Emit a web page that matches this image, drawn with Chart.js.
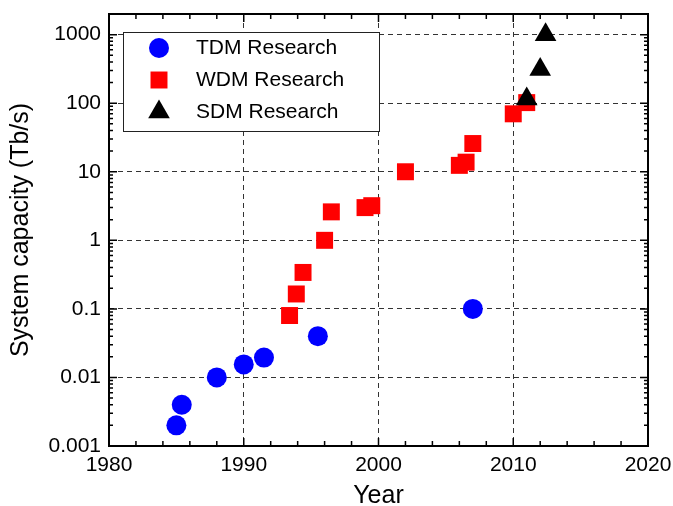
<!DOCTYPE html>
<html>
<head>
<meta charset="utf-8">
<title>System capacity vs year</title>
<script src="https://cdn.jsdelivr.net/npm/chart.js@4.4.0/dist/chart.umd.min.js"></script>
<style>
  html, body { margin: 0; padding: 0; background: #fff; }
  #wrap { width: 673px; height: 506px; }
</style>
</head>
<body>
<div id="wrap"><canvas id="capacityChart" width="673" height="506"></canvas></div>
<script>
// data
const tdmYears = [1985, 1985.4, 1988, 1990, 1991.5, 1995.5, 2007];
const tdmCapacity = [0.002, 0.004, 0.01, 0.0155, 0.0195, 0.04, 0.1];
const wdmYears = [1993.4, 1993.9, 1994.4, 1996, 1996.5, 1999, 1999.5, 2002, 2006, 2006.5, 2007, 2010, 2011];
const wdmCapacity = [0.08, 0.165, 0.34, 1.0, 2.6, 3.0, 3.2, 10, 12.4, 13.8, 25.8, 70, 102];
const sdmYears = [2011, 2012, 2012.4];
const sdmCapacity = [115, 310, 1000];

const xTicks = [1980, 1990, 2000, 2010, 2020];
const yTicks = [0.001, 0.01, 0.1, 1, 10, 100, 1000];
const yTickLabels = ["0.001", "0.01", "0.1", "1", "10", "100", "1000"];

const FONT = "'Liberation Sans', Arial, Helvetica, sans-serif";

function toPoints(xs, ys) {
  return xs.map((x, i) => ({ x: x, y: ys[i] }));
}

// plot frame + inward ticks (minor ones too)
const frameTicks = {
  id: "frameTicks",
  afterDraw(chart) {
    const ctx = chart.ctx;
    const a = chart.chartArea;
    const x = chart.scales.x;
    const y = chart.scales.y;
    ctx.save();
    ctx.strokeStyle = "#000";
    ctx.lineWidth = 1.5;
    ctx.beginPath();
    for (let yr = xTicks[0]; yr <= xTicks[xTicks.length - 1]; yr += 2) {
      const px = x.getPixelForValue(yr);
      const len = xTicks.includes(yr) ? 8 : 5;
      ctx.moveTo(px, a.bottom); ctx.lineTo(px, a.bottom - len);
      ctx.moveTo(px, a.top); ctx.lineTo(px, a.top + len);
    }
    yTicks.forEach(function (dec) {
      for (let m = 1; m < 10; m++) {
        const v = dec * m;
        if (v > y.max) break;
        const py = y.getPixelForValue(v);
        const len = m === 1 ? 8 : 4;
        ctx.moveTo(a.left, py); ctx.lineTo(a.left + len, py);
        ctx.moveTo(a.right, py); ctx.lineTo(a.right - len, py);
      }
    });
    ctx.stroke();
    ctx.lineWidth = 2;
    ctx.strokeRect(a.left, a.top, a.width, a.height);
    ctx.restore();
  }
};

// legend box inside the plot, top left
const boxLegend = {
  id: "boxLegend",
  afterDraw(chart) {
    const ctx = chart.ctx;
    ctx.save();
    ctx.fillStyle = "#fff";
    ctx.fillRect(123, 32, 256, 99);
    ctx.strokeStyle = "#222";
    ctx.lineWidth = 1;
    ctx.strokeRect(123.5, 32.5, 256, 99);
    chart.data.datasets.forEach(function (ds, i) {
      const cy = 48 + i * 32;
      ctx.fillStyle = ds.backgroundColor;
      Chart.helpers.drawPoint(ctx, { pointStyle: ds.pointStyle, radius: ds.pointRadius, rotation: 0, borderWidth: 0 }, 159, cy);
      ctx.fillStyle = "#000";
      ctx.font = "21px " + FONT;
      ctx.textBaseline = "middle";
      ctx.textAlign = "left";
      ctx.fillText(ds.label, 196, cy);
    });
    ctx.restore();
  }
};

const ctx = document.getElementById("capacityChart").getContext("2d");
const capacityChart = new Chart(ctx, {
  type: "scatter",
  data: {
    datasets: [
      {
        label: "TDM Research",
        data: toPoints(tdmYears, tdmCapacity),
        pointStyle: "circle",
        pointRadius: 10,
        backgroundColor: "#0000ff",
        borderWidth: 0,
        order: 2,
      },
      {
        label: "WDM Research",
        data: toPoints(wdmYears, wdmCapacity),
        pointStyle: "rect",
        pointRadius: 12,
        backgroundColor: "#ff0000",
        borderWidth: 0,
        order: 1,
      },
      {
        label: "SDM Research",
        data: toPoints(sdmYears, sdmCapacity),
        pointStyle: "triangle",
        pointRadius: 12.5,
        backgroundColor: "#000000",
        borderWidth: 0,
        order: 0,
      },
    ],
  },
  options: {
    responsive: false,
    devicePixelRatio: 1,
    animation: false,
    layout: { padding: { top: 14, right: 25, left: 0, bottom: 0 } },
    plugins: {
      legend: { display: false },
      tooltip: { enabled: false },
    },
    scales: {
      x: {
        type: "linear",
        min: xTicks[0],
        max: xTicks[xTicks.length - 1],
        afterBuildTicks: function (scale) {
          scale.ticks = xTicks.map((v) => ({ value: v }));
        },
        afterFit: function (scale) {
          scale.height = 60;
          scale.paddingLeft = 0;
          scale.paddingRight = 0;
        },
        ticks: {
          padding: 7,
          color: "#000",
          font: { family: FONT, size: 21 },
          callback: (v) => String(v),
        },
        grid: { color: "#333", lineWidth: 1, drawTicks: false },
        border: { display: false, dash: [5, 4] },
        title: {
          display: true,
          text: "Year",
          color: "#000",
          font: { family: FONT, size: 25 },
          padding: { top: 0, bottom: -5 },
        },
      },
      y: {
        type: "logarithmic",
        min: yTicks[0],
        max: 2000,
        afterBuildTicks: function (scale) {
          scale.ticks = yTicks.map((v) => ({ value: v }));
        },
        afterFit: function (scale) {
          scale.width = 109;
          scale.paddingTop = 0;
          scale.paddingBottom = 0;
        },
        ticks: {
          padding: 8,
          color: "#000",
          font: { family: FONT, size: 21 },
          callback: function (v) {
            const i = yTicks.indexOf(v);
            return i >= 0 ? yTickLabels[i] : "";
          },
        },
        grid: { color: "#333", lineWidth: 1, drawTicks: false },
        border: { display: false, dash: [5, 4] },
        title: {
          display: true,
          text: "System capacity (Tb/s)",
          color: "#000",
          font: { family: FONT, size: 25 },
          padding: { top: 6, bottom: 0 },
        },
      },
    },
  },
  plugins: [frameTicks, boxLegend],
});
</script>
</body>
</html>
